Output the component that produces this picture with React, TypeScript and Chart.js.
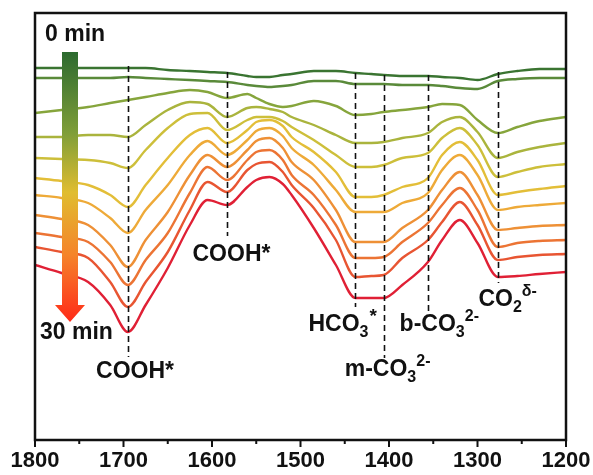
import React, { useEffect, useRef } from 'react';
import { Chart, registerables } from 'chart.js';

Chart.register(...registerables);

// Wavenumber grid (cm-1)
const wavenumbers = [1800, 1770, 1740, 1715, 1695, 1675, 1650, 1625, 1605, 1583, 1560, 1550, 1535, 1520, 1510, 1485, 1460, 1438, 1420, 1406, 1385, 1356, 1340, 1320, 1300, 1277, 1255, 1230, 1200];

// Offset spectra (a.u.), 0 min -> 30 min
const s00 = [372, 372, 372, 372, 372, 372, 370, 369, 368, 367, 364, 363, 363, 365, 366, 369, 369, 367, 366, 365, 364, 364, 363, 362, 360, 366, 369, 371, 371];
const s03 = [362, 362, 362, 362, 363, 362, 361, 360, 359, 358, 355, 354, 353, 354, 355, 359, 359, 356, 356, 356, 355, 355, 354, 352, 351, 359, 361, 362, 362];
const s06 = [327, 330, 333, 337, 340, 343, 347, 350, 348, 342, 346, 342, 336, 333, 334, 339, 334, 325, 326, 328, 330, 333, 336, 335, 320, 307, 313, 319, 323];
const s09 = [303, 303, 305, 305, 303, 315, 330, 338, 336, 323, 332, 333, 331, 328, 323, 315, 305, 297, 297, 298, 302, 307, 318, 323, 308, 282, 288, 293, 297];
const s12 = [282, 281, 280, 277, 272, 290, 312, 326, 327, 310, 320, 323, 323, 319, 313, 300, 285, 273, 273, 275, 282, 287, 302, 312, 295, 263, 268, 273, 276];
const s15 = [262, 259, 255, 245, 233, 255, 282, 305, 312, 297, 310, 318, 320, 314, 303, 288, 268, 243, 243, 245, 253, 262, 285, 298, 280, 245, 248, 251, 254];
const s18 = [245, 242, 237, 222, 207, 230, 255, 285, 299, 285, 300, 309, 312, 304, 292, 275, 250, 228, 228, 228, 237, 247, 270, 285, 265, 230, 233, 235, 237];
const s21 = [225, 221, 215, 195, 173, 200, 228, 265, 285, 273, 290, 299, 302, 292, 278, 260, 230, 198, 198, 198, 212, 230, 250, 268, 245, 210, 212, 214, 215];
const s24 = [207, 203, 198, 178, 155, 180, 207, 247, 273, 260, 280, 288, 290, 280, 265, 245, 215, 182, 182, 183, 198, 217, 235, 252, 230, 193, 197, 199, 200];
const s27 = [193, 188, 182, 158, 133, 158, 188, 230, 258, 248, 270, 276, 278, 268, 255, 232, 200, 163, 164, 165, 182, 200, 218, 238, 215, 180, 183, 185, 186];
const s30 = [175, 167, 158, 135, 108, 135, 172, 215, 240, 235, 253, 260, 263, 256, 245, 212, 175, 142, 142, 142, 155, 178, 200, 220, 197, 163, 164, 166, 168];

const seriesList = [s00, s03, s06, s09, s12, s15, s18, s21, s24, s27, s30];
const seriesColors = ['#3a7431', '#5a8a3a', '#86a53c', '#aab43d', '#cdbf3a', '#e3be38', '#eeaa38', '#ee9036', '#ec7434', '#e85532', '#e02035'];

// Dashed marker lines: wavenumber, top value, bottom value
const markerWavenumbers = [1695, 1583, 1438, 1406, 1356, 1277];
const markerTops = [374, 368, 367, 365, 365, 368];
const markerBottoms = [83, 204, 133, 82, 127, 157];

type Part = { t: string; sub?: boolean; sup?: boolean };
const labelParts: Part[][] = [
  [{ t: 'COOH*' }],
  [{ t: 'COOH*' }],
  [{ t: 'HCO' }, { t: '3', sub: true }, { t: '*', sup: true }],
  [{ t: 'm-CO' }, { t: '3', sub: true }, { t: '2-', sup: true }],
  [{ t: 'b-CO' }, { t: '3', sub: true }, { t: '2-', sup: true }],
  [{ t: 'CO' }, { t: '2', sub: true }, { t: 'δ-', sup: true }],
];
const labelX = [1687, 1578, 1491, 1450, 1388, 1299];
const labelY = [68, 185, 115, 70, 115, 140];
const labelAlign = ['center', 'center', 'left', 'left', 'left', 'left'];

const FONT_FAMILY = "'Liberation Sans', Arial, sans-serif";

function drawRich(ctx: CanvasRenderingContext2D, parts: Part[], x: number, y: number, align: string) {
  const fontFor = (p: Part) =>
    p.sup && p.t === '*' ? `bold 19px ${FONT_FAMILY}` : p.sub || p.sup ? `bold 16px ${FONT_FAMILY}` : `bold 23px ${FONT_FAMILY}`;
  const widths = parts.map((p) => {
    ctx.font = fontFor(p);
    return ctx.measureText(p.t).width;
  });
  const total = widths.reduce((a, b) => a + b, 0);
  let cx = align === 'center' ? x - total / 2 : x;
  ctx.textBaseline = 'middle';
  ctx.textAlign = 'left';
  parts.forEach((p, i) => {
    ctx.font = fontFor(p);
    const dy = p.sub ? 8 : p.sup ? -8 : 0;
    ctx.fillText(p.t, cx + (p.sup && p.t === '*' ? 1 : 0), y + dy);
    cx += widths[i];
  });
}

const decorPlugin = {
  id: 'decor',
  afterDatasetsDraw(chart: any) {
    const { ctx, chartArea, scales } = chart;
    const xs = scales.x;
    const ys = scales.y;
    ctx.save();

    // dashed markers
    ctx.strokeStyle = '#111';
    ctx.lineWidth = 1.6;
    ctx.setLineDash([6, 4]);
    markerWavenumbers.forEach((w, i) => {
      const px = Math.round(xs.getPixelForValue(w)) + 0.5;
      ctx.beginPath();
      ctx.moveTo(px, ys.getPixelForValue(markerTops[i]));
      ctx.lineTo(px, ys.getPixelForValue(markerBottoms[i]));
      ctx.stroke();
    });
    ctx.setLineDash([]);

    // labels
    ctx.fillStyle = '#111';
    labelParts.forEach((parts, i) => {
      drawRich(ctx, parts, xs.getPixelForValue(labelX[i]), ys.getPixelForValue(labelY[i]), labelAlign[i]);
    });

    // gradient arrow
    const L = chartArea.left;
    const T = chartArea.top;
    const barL = L + 27, barR = L + 43, barTop = T + 39, headTop = T + 292, tip = T + 309;
    const grad = ctx.createLinearGradient(0, barTop, 0, tip);
    grad.addColorStop(0, '#2c6a2f');
    grad.addColorStop(0.3, '#7f9e38');
    grad.addColorStop(0.52, '#e0bd30');
    grad.addColorStop(0.75, '#f5842a');
    grad.addColorStop(1, '#ff2a18');
    ctx.fillStyle = grad;
    ctx.beginPath();
    ctx.moveTo(barL, barTop);
    ctx.lineTo(barR, barTop);
    ctx.lineTo(barR, headTop);
    ctx.lineTo(L + 50, headTop);
    ctx.lineTo(L + 35, tip);
    ctx.lineTo(L + 20, headTop);
    ctx.lineTo(barL, headTop);
    ctx.closePath();
    ctx.fill();

    ctx.fillStyle = '#111';
    ctx.font = `bold 23px ${FONT_FAMILY}`;
    ctx.textBaseline = 'middle';
    ctx.textAlign = 'left';
    ctx.fillText('0 min', L + 10, T + 22);
    ctx.fillText('30 min', L + 5, T + 320);

    // frame
    ctx.strokeStyle = '#111';
    ctx.lineWidth = 2.5;
    ctx.strokeRect(chartArea.left, chartArea.top, chartArea.right - chartArea.left, chartArea.bottom - chartArea.top);

    // ticks
    ctx.lineWidth = 2;
    for (let w = 1200; w <= 1800; w += 50) {
      const px = xs.getPixelForValue(w);
      const len = w % 100 === 0 ? 7 : 4;
      ctx.beginPath();
      ctx.moveTo(px, chartArea.bottom);
      ctx.lineTo(px, chartArea.bottom + len);
      ctx.stroke();
    }
    ctx.restore();
  },
};

export default function App() {
  const ref = useRef<HTMLCanvasElement>(null);
  useEffect(() => {
    if (!ref.current) return;
    const chart = new Chart(ref.current, {
      type: 'line',
      data: {
        datasets: seriesList.map((s, i) => ({
          label: `${i * 3} min`,
          data: wavenumbers.map((w, j) => ({ x: w, y: s[j] })),
          borderColor: seriesColors[i],
          borderWidth: 2.4,
          pointRadius: 0,
          fill: false,
          cubicInterpolationMode: 'monotone' as const,
        })),
      },
      options: {
        responsive: false,
        animation: false,
        layout: { padding: { left: 35, right: 27, top: 13, bottom: 0 } },
        plugins: { legend: { display: false }, tooltip: { enabled: false } },
        scales: {
          x: {
            type: 'linear',
            reverse: true,
            min: 1200,
            max: 1800,
            grid: { display: false, drawTicks: false },
            border: { display: false },
            afterFit: (scale: any) => {
              scale.height = 35;
              scale.paddingLeft = 0;
              scale.paddingRight = 0;
            },
            ticks: {
              stepSize: 100,
              autoSkip: false,
              maxRotation: 0,
              padding: 8,
              color: '#111',
              font: { family: FONT_FAMILY, size: 22, weight: 'bold' },
              callback: (v: any) => String(v),
            },
          },
          y: { display: false, min: 0, max: 427 },
        },
      },
      plugins: [decorPlugin],
    });
    return () => chart.destroy();
  }, []);
  return (
    <div style={{ position: 'fixed', left: 0, top: 0, width: 593, height: 475, background: '#fff' }}>
      <canvas ref={ref} width={593} height={475} />
    </div>
  );
}
